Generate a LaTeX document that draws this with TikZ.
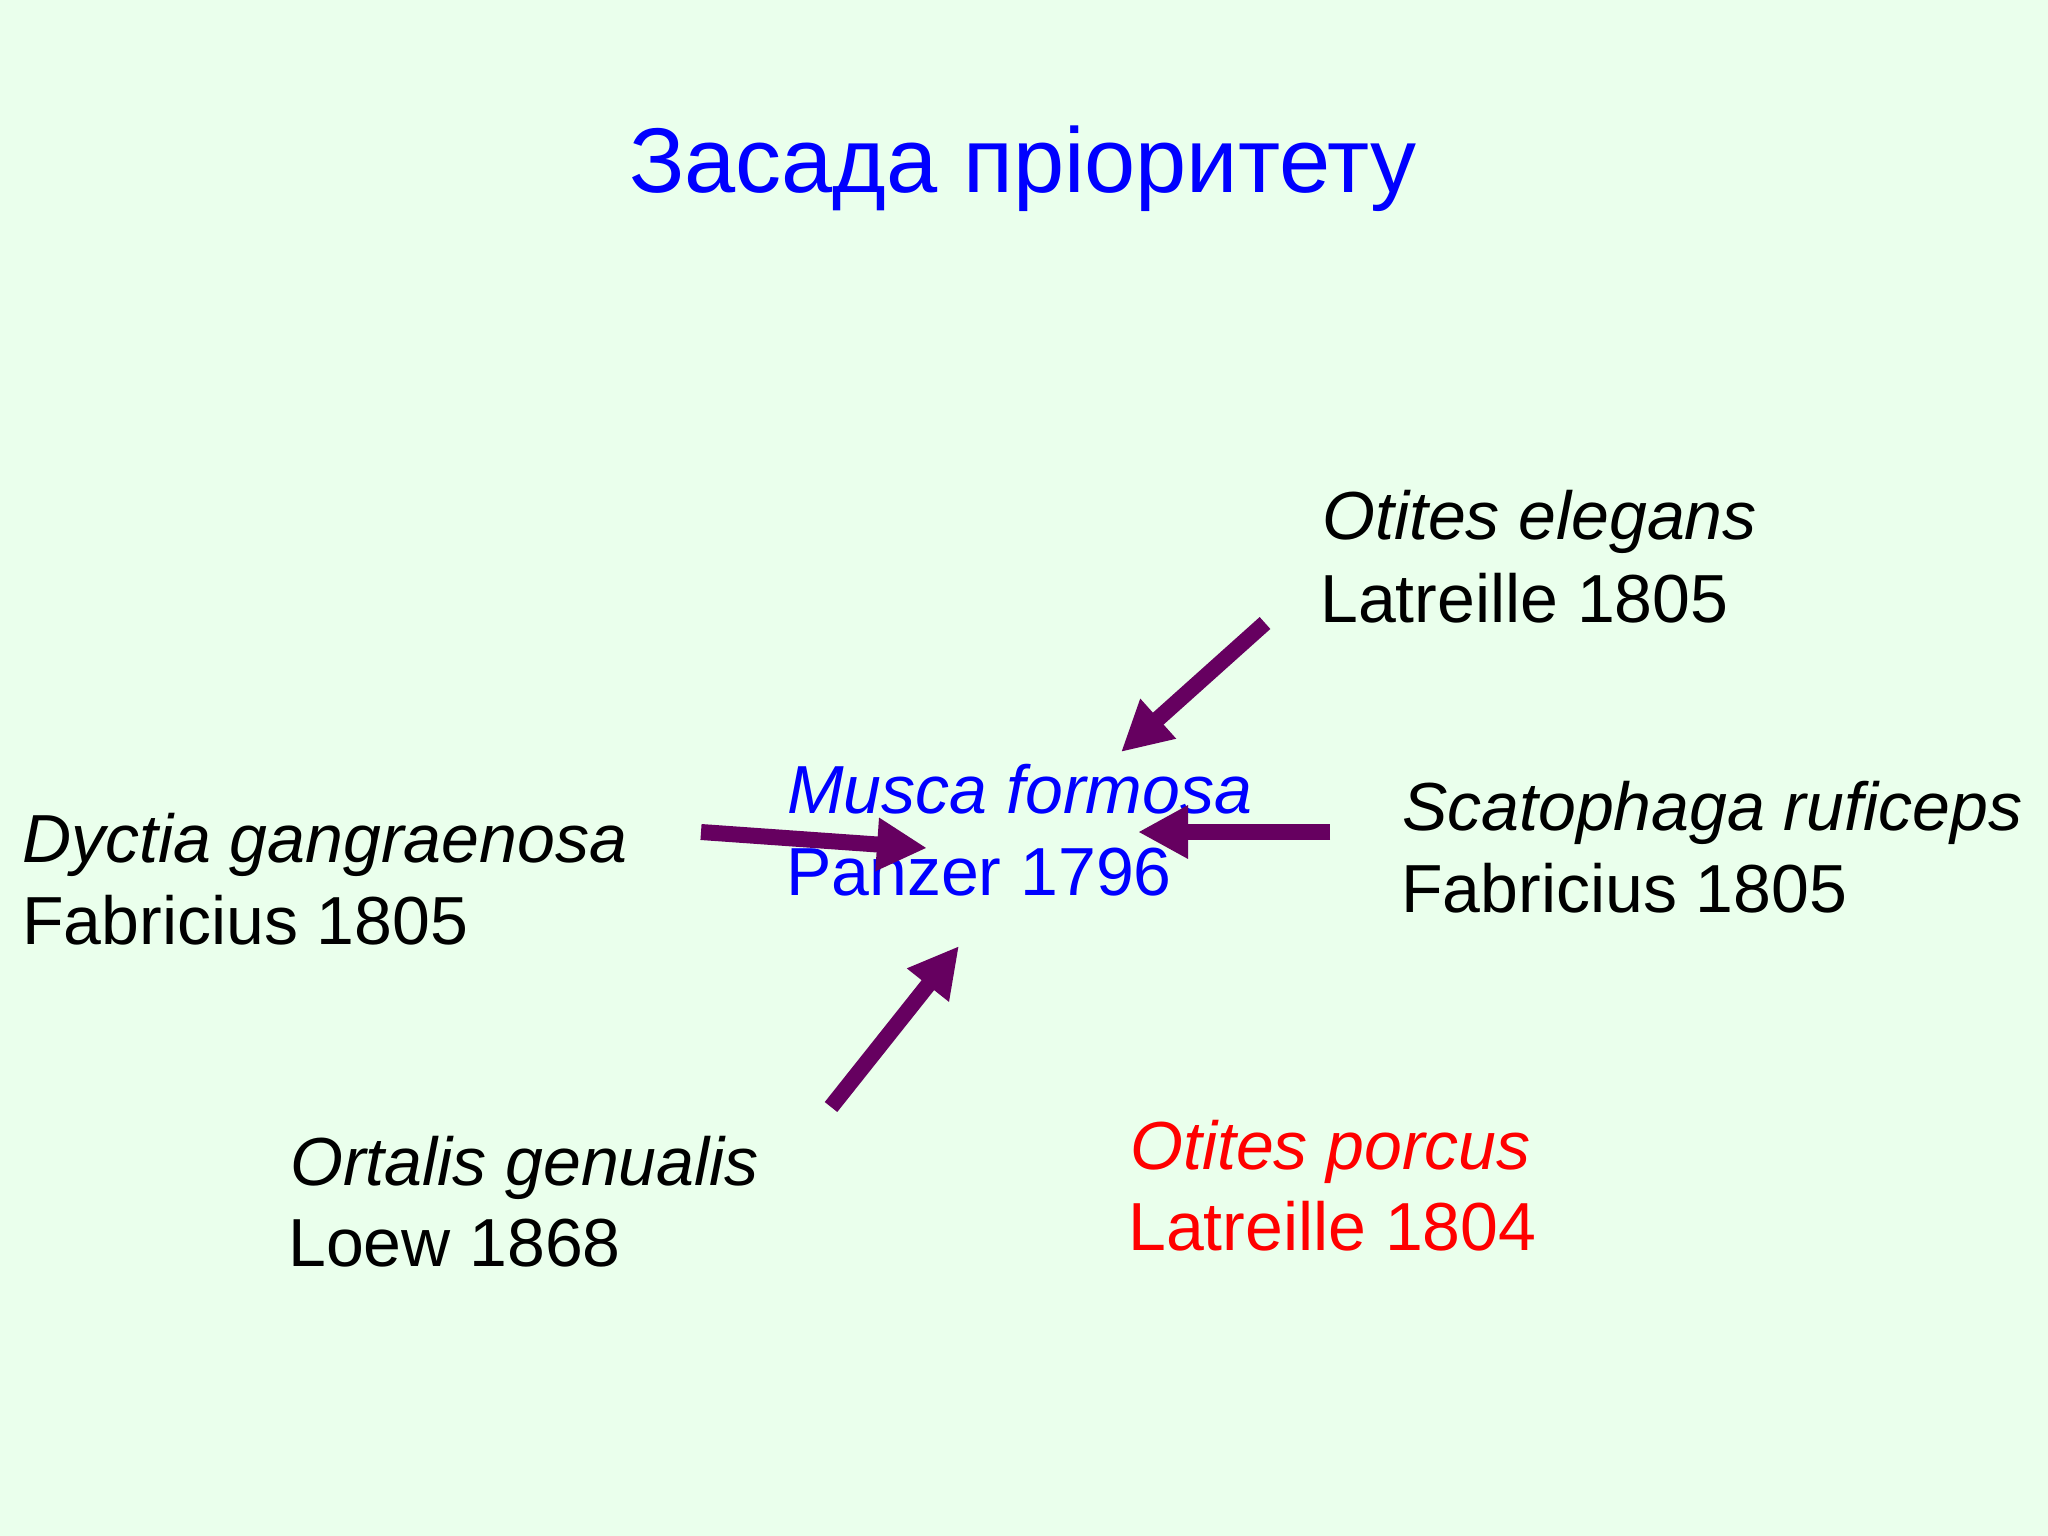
\documentclass[tikz,border=0pt]{standalone}
\usepackage{fontspec}
\setmainfont{Liberation Sans}
\usetikzlibrary{arrows.meta}
\definecolor{bg}{RGB}{234,255,236}
\definecolor{arrowc}{RGB}{102,0,96}
\definecolor{titleblue}{RGB}{0,0,255}
\definecolor{namered}{RGB}{255,0,0}
\tikzset{
  lbl/.style={inner sep=0pt, anchor=base west, font=\fontsize{68}{80}\selectfont},
  spc/.style={lbl, font=\fontsize{68}{80}\selectfont\itshape},
  bigarrow/.style={draw=arrowc, line width=16pt, -{Triangle[width=50pt,length=50pt]}}
}
\begin{document}
\begin{tikzpicture}[x=1pt,y=-1pt]
\fill[bg] (0,0) rectangle (2048,1536);
\useasboundingbox (0,0) rectangle (2048,1536);
\node[inner sep=0pt, anchor=base, text=titleblue, font=\fontsize{92}{110}\selectfont] (title) at (1023,193) {Засада пріоритету};
% centre
\node[spc, text=titleblue] (musca1) at (787,813) {Musca formosa};
\node[lbl, text=titleblue] (musca2) at (786,895) {Panzer 1796};
% others
\node[spc] (otel1) at (1322,539) {Otites elegans};
\node[lbl] (otel2) at (1320,622) {Latreille 1805};
\node[spc] (dyc1) at (22,862) {Dyctia gangraenosa};
\node[lbl] (dyc2) at (22,944) {Fabricius 1805};
\node[spc] (scat1) at (1402,830) {Scatophaga ruficeps};
\node[lbl] (scat2) at (1401,912) {Fabricius 1805};
\node[spc] (ort1) at (290,1185) {Ortalis genualis};
\node[lbl] (ort2) at (288,1266) {Loew 1868};
\node[spc, text=namered] (otpo1) at (1130,1169) {Otites porcus};
\node[lbl, text=namered] (otpo2) at (1128,1250) {Latreille 1804};
% arrow ends
\coordinate (a1s) at (1265,623);
\coordinate (a1e) at (1121,752);
\coordinate (a2s) at (701,832);
\coordinate (a2e) at (927,848);
\coordinate (a3s) at (1330,832);
\coordinate (a3e) at (1138,832);
\coordinate (a4s) at (831,1107);
\coordinate (a4e) at (959,946);
\draw[bigarrow] (a1s) -- (a1e);
\draw[bigarrow] (a2s) -- (a2e);
\draw[bigarrow] (a3s) -- (a3e);
\draw[bigarrow] (a4s) -- (a4e);
\end{tikzpicture}
\end{document}
